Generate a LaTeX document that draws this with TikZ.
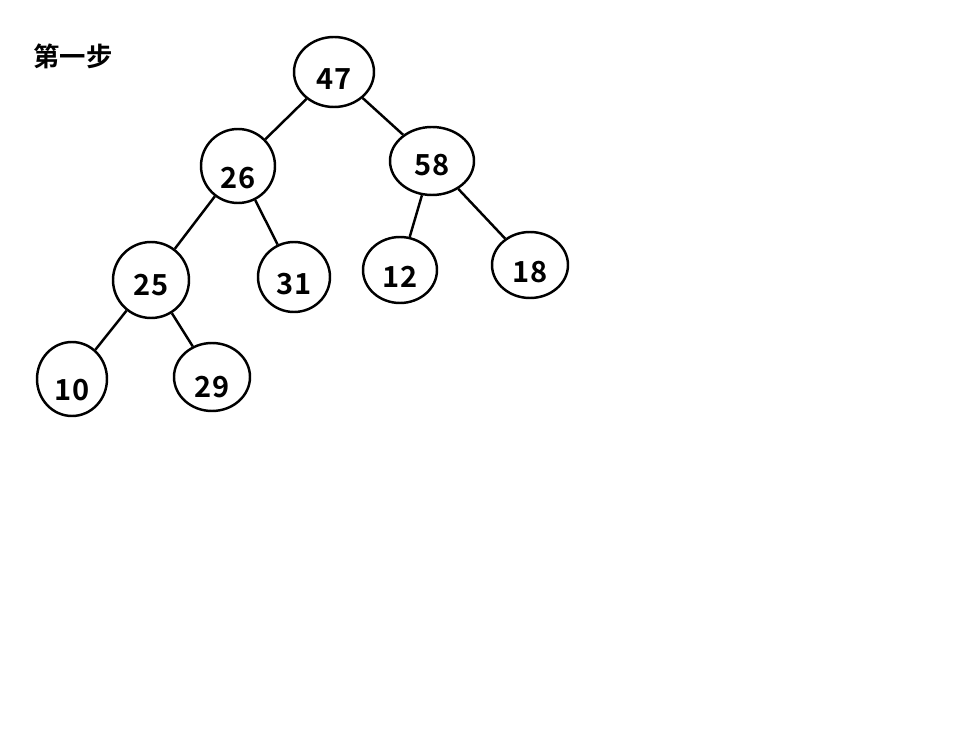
\documentclass[tikz,border=0pt]{standalone}
\usepackage{fontspec}
\setmainfont{Noto Sans CJK SC}[BoldFont={* Bold}]
\usetikzlibrary{shapes.geometric}

\begin{document}
\begin{tikzpicture}[x=0.02cm,y=-0.02cm,font=\fontsize{16.5}{19}\selectfont\bfseries,
vert/.style={draw,ellipse,line width=1.4pt,minimum width=#1*0.02cm,minimum height=70*0.02cm,inner sep=0pt,text height=20pt,text depth=0pt},
vert/.default=76,
edge/.style={line width=1.4pt}]
\useasboundingbox (0,0) rectangle (970,736);
\node[font=\fontsize{15}{18}\selectfont\bfseries] (title) at (73,56) {第一步};
\node[vert=80] (n47) at (334,72) {47};
\node[vert=74,minimum height=74*0.02cm,text height=26pt] (n26) at (238,166) {26};
\node[vert=84,minimum height=68*0.02cm,text height=17pt] (n58) at (432,161) {58};
\node[vert=76,minimum height=76*0.02cm,text height=18pt] (n25) at (151,280) {25};
\node[vert=72] (n31) at (294,277) {31};
\node[vert=74,minimum height=66*0.02cm] (n12) at (400,270) {12};
\node[vert,minimum height=66*0.02cm] (n18) at (530,265) {18};
\node[vert=70,minimum height=74*0.02cm,text height=25pt] (n10) at (72,379) {10};
\node[vert,minimum height=68*0.02cm,text height=23pt] (n29) at (212,377) {29};
\draw[edge] (n47)--(n26);
\draw[edge] (n47)--(n58);
\draw[edge] (n26)--(n25);
\draw[edge] (n26)--(n31);
\draw[edge] (n58)--(n12);
\draw[edge] (n58)--(n18);
\draw[edge] (n25)--(n10);
\draw[edge] (n25)--(n29);
\end{tikzpicture}
\end{document}
